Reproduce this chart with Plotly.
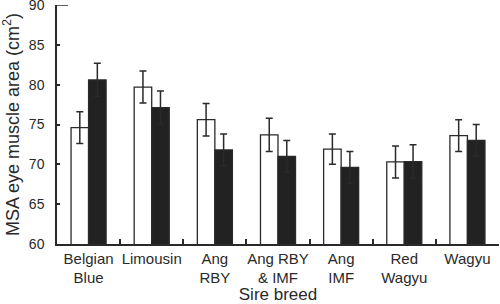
import plotly.graph_objects as go

categories = ["Belgian<br>Blue", "Limousin", "Ang<br>RBY", "Ang RBY<br>& IMF", "Ang<br>IMF", "Red<br>Wagyu", "Wagyu"]
white_values = [74.6, 79.7, 75.6, 73.7, 71.9, 70.3, 73.6]
white_errors = [2.0, 2.0, 2.05, 2.1, 1.9, 2.0, 2.0]
black_values = [80.6, 77.1, 71.8, 71.0, 69.6, 70.35, 73.0]
black_errors = [2.1, 2.1, 2.0, 2.0, 2.0, 2.1, 2.0]
y_ticks = [60, 65, 70, 75, 80, 85, 90]

FONT = "Liberation Sans, Arial, Helvetica, sans-serif"
INK = "#2a2a2a"

fig = go.Figure()
fig.add_trace(go.Bar(
    x=categories, y=white_values,
    marker=dict(color="white", line=dict(color=INK, width=1.3)),
    error_y=dict(type="data", array=white_errors, color=INK, thickness=1.5, width=3.5),
    showlegend=False,
))
fig.add_trace(go.Bar(
    x=categories, y=black_values,
    marker=dict(color="#222222", line=dict(color=INK, width=1.3)),
    error_y=dict(type="data", array=black_errors, color=INK, thickness=1.5, width=3.5),
    showlegend=False,
))

fig.update_layout(
    width=500, height=304,
    margin=dict(l=57, r=1, t=5, b=60),
    paper_bgcolor="white", plot_bgcolor="white",
    barmode="group", bargap=0.445, bargroupgap=0,
    font=dict(family=FONT, color=INK),
    xaxis=dict(
        type="category", range=[-0.5, 6.5], automargin=False,
        showline=True, linecolor=INK, linewidth=1.5,
        ticks="inside", tickson="boundaries", ticklen=5, tickcolor=INK, tickwidth=1.5,
        tickfont=dict(size=15, color=INK), tickangle=0,
        title=dict(text="Sire breed", font=dict(size=17, color=INK), standoff=4),
        showgrid=False, zeroline=False,
    ),
    yaxis=dict(
        range=[60, 90], tickvals=y_ticks, automargin=False,
        showline=True, linecolor=INK, linewidth=1.5,
        ticks="inside", ticklen=3, tickcolor=INK, tickwidth=1.5,
        tickfont=dict(size=14, color=INK), ticklabelstandoff=8,
        ticklabeloverflow="allow",
        title=dict(text="MSA eye muscle area (cm<sup>2</sup>)", font=dict(size=18, color=INK), standoff=9),
        showgrid=False, zeroline=False,
    ),
    shapes=[dict(type="line", xref="paper", yref="y", x0=0, x1=0.025, y0=90, y1=90,
                 line=dict(color=INK, width=1.5))],
)

fig.write_html("out.html", config={"displayModeBar": False},
               post_script="document.body.style.margin='0';")
